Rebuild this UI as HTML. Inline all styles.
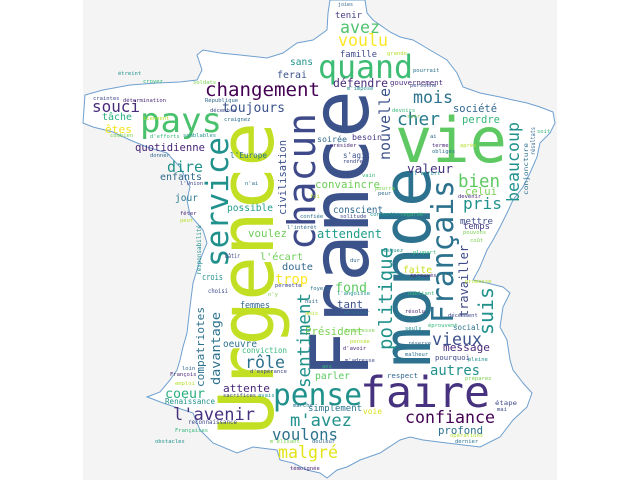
<!DOCTYPE html>
<html><head><meta charset="utf-8"><style>
html,body{margin:0;padding:0;background:#fff;}
svg{display:block}
text{font-family:"DejaVu Sans Mono","Liberation Mono",monospace;}
</style></head><body>
<svg id="cloud" width="640" height="480" viewBox="0 0 640 480" xmlns="http://www.w3.org/2000/svg">
<rect x="0" y="0" width="640" height="480" fill="#ffffff"/>
<rect x="83" y="0" width="474" height="480" fill="#f4f4f4"/>
<path fill="#ffffff" stroke="#6fa0cf" stroke-width="1"
d="M330,0 L365,0 L367,13 L373,20 L390,32 L400,37 L413,40 L430,50 L447,60 L457,73 L463,87 L480,93 L500,97 L513,100 L527,103 L540,107 L553,112 L555,123 L550,133 L540,143 L537,157 L530,173 L523,187 L513,200 L507,213 L500,227 L493,240 L487,250 L480,267 L473,280 L487,283 L503,287 L510,293 L503,307 L500,327 L507,340 L510,360 L513,370 L523,383 L532,393 L527,407 L513,420 L500,437 L480,447 L447,443 L423,440 L410,437 L400,440 L380,453 L360,460 L347,467 L337,470 L327,478 L320,473 L307,470 L293,463 L280,460 L277,450 L253,447 L237,453 L213,443 L200,430 L193,413 L163,403 L150,398 L147,397 L160,392 L170,380 L177,370 L180,360 L183,347 L187,333 L190,307 L193,283 L200,260 L207,243 L203,230 L190,215 L187,200 L190,187 L180,167 L167,153 L147,147 L130,140 L113,132 L93,127 L83,123 L85,95 L103,90 L130,85 L157,83 L180,82 L197,80 L202,70 L197,55 L203,50 L220,53 L240,55 L267,58 L283,53 L297,43 L313,40 L327,30 L328,13 Z"/>
<g id="words"></g>
</svg>
<script>
// [text, x, y(baseline or start), fontSize, rotated(1=upward), color, length]
const W = [
["France",368,378,80,1,"#3b528b",288],
["Urgence",273,435,76,1,"#c2df23",313],
["monde",430,367,67,1,"#2c728e",200],
["vie",395,162,62,0,"#5ec962",112],
["faire",360,407,43,0,"#46327e",130],
["pense",273,405,30,0,"#21918c",89],
["chacun",315,250,38,1,"#3e4a89",137],
["service",228,267,31,1,"#21918c",130],
["Français",453,323,30,1,"#2c728e",143],
["politique",392,350,19,1,"#21918c",103],
["quand",318,78,32,0,"#3dbc74",95],
["pays",140,132,34,0,"#4ac16d",82],
["changement",205,96,19,0,"#440154",115],
["avez",340,33,17,0,"#4ec36b",40],
["voulu",338,46,17,0,"#fde725",50],
["tenir",335,18,9,0,"#443a83",27],
["joies",338,6,5,0,"#31688e",15],
["famille",340,57,9,0,"#3e4989",37],
["sans",290,65,10,0,"#21918c",23],
["ferai",277,78,10,0,"#3b528b",30],
["défendre",333,87,11.5,0,"#482878",55],
["gouvernement",390,85,7.4,0,"#472d7b",53],
["souci",92,112,16,0,"#472c7a",48],
["toujours",222,112,13,0,"#3b528b",63],
["mois",413,103,17,0,"#2c728e",40],
["cher",397,125,18,0,"#287c8e",43],
["société",453,112,10.5,0,"#31688e",44],
["perdre",462,123,10.5,0,"#35b779",38],
["tâche",102,120,10,0,"#29af7f",30],
["êtes",105,133,11,0,"#f1e51d",27],
["quotidienne",135,151,10.6,0,"#482475",70],
["dire",167,172,15,0,"#21918c",36],
["enfants",160,180,10,0,"#31688e",42],
["jour",175,201,9.6,0,"#2a788e",23],
["possible",227,211,9.6,0,"#1f9e89",46],
["voulez",248,237,10.8,0,"#6ece58",39],
["soirée",317,142,8.3,0,"#31688e",30],
["besoin",352,140,8.3,0,"#443983",30],
["s'agit",343,158,7.5,0,"#3b528b",27],
["l'Europe",230,158,7.7,0,"#2c728e",37],
["convaincre",315,188,10.8,0,"#6ece58",65],
["conscient",333,213,9.3,0,"#31688e",50],
["attendent",317,238,12,0,"#1f9e89",65],
["valeur",407,173,12.8,0,"#46327e",46],
["bien",458,187,17.5,0,"#5ec962",42],
["celui",465,195,10.7,0,"#7ad151",32],
["pris",463,209,16,0,"#21918c",39],
["mettre",460,224,9,0,"#3e4989",33],
["temps",463,229,9,0,"#433e85",27],
["nouvelle",390,160,15,1,"#3b528b",72],
["civilisation",286,215,10.4,1,"#3b528b",75],
["beaucoup",519,202,16.7,1,"#21918c",80],
["conjoncture",528,195,6,1,"#2c728e",52],
["résultats",535,155,6,1,"#31688e",28],
["trop",275,284,14,0,"#fde725",33],
["l'écart",260,260,10,0,"#6ece58",43],
["doute",282,270,10,0,"#31688e",31],
["fond",335,292,13,0,"#5ec962",32],
["tant",337,308,11,0,"#3b528b",26],
["Président",305,335,10.7,0,"#7ad151",58],
["parler",315,379,9.7,0,"#5ec962",35],
["simplement",308,411,9,0,"#2c728e",54],
["voie",363,414,8,0,"#d8e219",19],
["m'avez",290,426,17,0,"#21918c",62],
["voulons",272,440,15.7,0,"#2c728e",66],
["malgré",278,458,16.7,0,"#e2e418",60],
["l'avenir",173,420,17,0,"#46327e",82],
["coeur",165,398,13.3,0,"#29af7f",40],
["attente",223,392,11,0,"#482878",47],
["Renaissance",165,404,7.6,0,"#21918c",50],
["reconnaissance",188,424,6,0,"#3e4989",49],
["rôle",245,368,16.7,0,"#2c728e",40],
["oeuvre",223,347,9.5,0,"#2c728e",34],
["conviction",242,353,7.5,0,"#35b779",45],
["d'espérance",250,373,5.6,0,"#3e4989",37],
["femmes",240,308,8.4,0,"#31688e",30],
["crois",202,280,8.4,0,"#21918c",21],
["choisi",208,293,6,0,"#3e4989",20],
["bâtir",225,258,6,0,"#3e4989",15],
["davantage",220,385,12,1,"#2c728e",73],
["compatriotes",204,387,11,1,"#2c728e",80],
["sentiment",310,388,17.6,1,"#21918c",95],
["suis",493,335,20,1,"#21918c",48],
["travailler",468,317,12,1,"#3e4989",72],
["faite",403,273,9.7,0,"#c8e020",29],
["vieux",432,345,16.7,0,"#3b528b",50],
["message",443,351,11,0,"#482878",47],
["autres",430,375,14,0,"#21918c",50],
["social",453,330,7.5,0,"#2c728e",27],
["pourquoi",435,360,7.3,0,"#3e4989",35],
["confiance",405,423,16.7,0,"#440154",90],
["respect",387,378,7.4,0,"#31688e",31],
["profond",438,434,10.7,0,"#2c728e",45],
["étape",495,405,6.5,0,"#3e4989",22],
["responsabilité",201,275,6,1,"#21918c",50]
];
const S = [
["craintes",93,100],["étreint",118,75],["croyez",143,83],["soldats",193,84],["République",205,102],
["détermination",123,102],["tiennent",143,120],["craignez",224,121],["décembre",210,112],["semblables",183,137],
["d'efforts",150,138],["combien",110,137],["donner",150,157],["présider",330,147],["grande",387,55],
["pourrait",413,72],["personne",410,87],["m'impose",347,90],["devoirs",392,112],["soir",407,118],
["ai",430,138],["terme",432,147],["après",460,147],["obligés",432,153],["rendre",343,163],
["l'effort",414,175],["vain",362,177],["pourra",375,190],["peur",378,195],["devenir",458,198],
["foi",310,198],["confiée",300,218],["solitude",340,218],["consentis",370,216],["regardé",400,216],
["pouvons",463,234],["l'intérêt",287,229],["fêter",180,215],["peut",180,222],["n'ai",245,185],
["l'Union",180,185],["risquez",380,252],["plupart",413,254],["coût",470,242],["dur",350,262],
["éprouvés",410,277],["promesse",465,283],["foyers",310,290],["permette",275,287],["l'angoisse",337,295],
["oubliant",408,295],["n'y",268,296],["nuit",305,303],["résolu",405,313],["amis",305,315],
["adresser",343,314],["décemment",448,317],["seuls",405,330],["éprouvent",428,327],["tristesse",345,332],
["réserve",408,345],["d'avoir",343,350],["pensée",350,343],["malheur",405,356],["m'adresse",345,362],
["pleine",468,361],["ans",322,368],["préparez",465,380],["loin",182,370],["François",170,376],
["emploi",175,385],["marche",293,407],["mai",497,411],["obstacles",155,443],["Françaises",175,432],
["m'élisant",270,443],["douleur",312,443],["témoignée",290,470],["opérations",450,437],["dernier",455,443],
["sacrifices",223,397],["avais",258,397],["soit",537,133]
];
const SC = ["#3e4989","#21918c","#35b779","#7ad151","#31688e","#482878","#b5de2b","#2c728e"];
const NS = "http://www.w3.org/2000/svg";
const g = document.getElementById("words");
function slug(s){return s.toLowerCase().normalize("NFD").replace(/[\u0300-\u036f]/g,"").replace(/[^a-z0-9]+/g,"-").replace(/^-|-$/g,"");}
W.forEach(w=>{
  const t=document.createElementNS(NS,"text");
  t.textContent=w[0];
  t.setAttribute("font-size",w[3]);
  t.setAttribute("fill",w[5]);
  t.setAttribute("textLength",w[6]);
  t.setAttribute("lengthAdjust","spacingAndGlyphs");
  if(w[4]){t.setAttribute("transform","translate("+w[1]+","+w[2]+") rotate(-90)");t.setAttribute("x",0);t.setAttribute("y",0);}
  else{t.setAttribute("x",w[1]);t.setAttribute("y",w[2]);}
  
  
  g.appendChild(t);
});
S.forEach((w,i)=>{
  const t=document.createElementNS(NS,"text");
  t.textContent=w[0];
  t.setAttribute("font-size",5.5);
  t.setAttribute("fill",SC[i%SC.length]);
  t.setAttribute("x",w[1]);t.setAttribute("y",w[2]);
  
  
  g.appendChild(t);
});
</script>
</body></html>
